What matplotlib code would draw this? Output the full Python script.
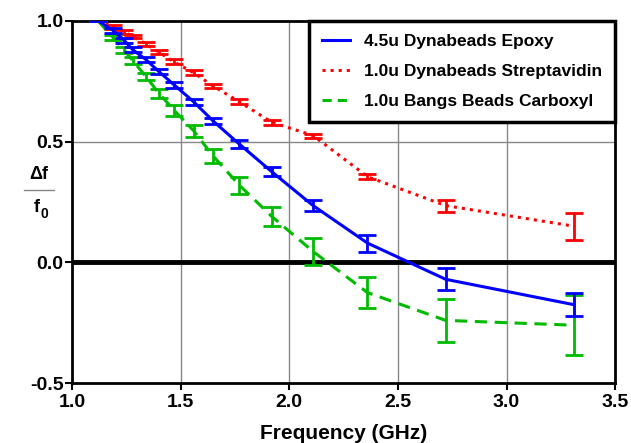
import numpy as np
import matplotlib.pyplot as plt
from matplotlib.lines import Line2D

plt.rcParams['font.family'] = ['Liberation Sans', 'DejaVu Sans']
plt.rcParams['font.weight'] = 'bold'

# frequency points (GHz)
freq = [1.12, 1.19, 1.24, 1.28, 1.34, 1.40, 1.47, 1.56, 1.65, 1.77, 1.92, 2.11, 2.36, 2.72, 3.31]

# 4.5u Dynabeads Epoxy
epoxy = [1.0, 0.96, 0.92, 0.88, 0.84, 0.79, 0.735, 0.665, 0.585, 0.49, 0.375, 0.235, 0.08, -0.07, -0.175]
epoxy_err = [0, 0.01, 0.01, 0.01, 0.01, 0.01, 0.012, 0.012, 0.013, 0.015, 0.018, 0.022, 0.035, 0.045, 0.048]

# 1.0u Dynabeads Streptavidin
strep = [1.0, 0.975, 0.955, 0.935, 0.905, 0.87, 0.83, 0.785, 0.73, 0.665, 0.58, 0.525, 0.355, 0.235, 0.15]
strep_err = [0, 0.008, 0.008, 0.008, 0.008, 0.008, 0.01, 0.01, 0.01, 0.01, 0.01, 0.008, 0.01, 0.025, 0.056]

# 1.0u Bangs Beads Carboxyl
carb = [1.0, 0.93, 0.88, 0.835, 0.77, 0.70, 0.63, 0.545, 0.44, 0.32, 0.19, 0.045, -0.125, -0.24, -0.26]
carb_err = [0, 0.01, 0.012, 0.014, 0.016, 0.018, 0.022, 0.025, 0.03, 0.035, 0.04, 0.055, 0.065, 0.088, 0.125]

fig = plt.figure(figsize=(6.31, 4.43), dpi=100)
ax = fig.add_axes([0.114, 0.135, 0.861, 0.818])

ax.axhline(0, color='black', lw=3.5, zorder=1)
for gx in [1.5, 2.0, 2.5, 3.0]:
    ax.axvline(gx, color='#888888', lw=1, zorder=0)
ax.axhline(0.5, color='#888888', lw=1, zorder=0)

ekw = dict(capsize=6.5, capthick=2, elinewidth=2, lw=2.2)
ax.errorbar(freq, epoxy, yerr=epoxy_err, color='#0000ff', ls='-', zorder=4, **ekw)
ax.errorbar(freq, strep, yerr=strep_err, color='#ff0000', ls=':', zorder=3, **ekw)
ax.errorbar(freq, carb, yerr=carb_err, color='#00bb00', ls='--', zorder=3,
            dashes=(4, 2.5), **ekw)

ax.set_xlim(1.0, 3.5)
ax.set_ylim(-0.5, 1.0)
ax.set_xticks([1.0, 1.5, 2.0, 2.5, 3.0, 3.5])
ax.set_yticks([-0.5, 0.0, 0.5, 1.0])
ax.set_xticklabels(['1.0', '1.5', '2.0', '2.5', '3.0', '3.5'], fontsize=14, fontweight='bold')
ax.set_yticklabels(['-0.5', '0.0', '0.5', '1.0'], fontsize=14, fontweight='bold')
ax.tick_params(direction='out', length=5, width=1.5, pad=1)
ax.tick_params(axis='x', pad=3)
for s in ax.spines.values():
    s.set_linewidth(2)
    s.set_color('black')
ax.set_xlabel('Frequency (GHz)', fontsize=15, fontweight='bold', labelpad=9)

# y label as a fraction
fig.text(0.062, 0.605, 'Δf', fontsize=13, fontweight='bold', ha='center', va='center')
fig.add_artist(Line2D([0.038, 0.086], [0.571, 0.571], color='#888888', lw=1))
fig.text(0.058, 0.532, 'f', fontsize=13, fontweight='bold', ha='center', va='center')
fig.text(0.071, 0.518, '0', fontsize=10, fontweight='bold', ha='center', va='center')

handles = [Line2D([], [], color='#0000ff', lw=2.2, ls='-'),
           Line2D([], [], color='#ff0000', lw=2.2, ls=':'),
           Line2D([], [], color='#00bb00', lw=2.2, ls='--', dashes=(3, 2))]
leg = ax.legend(handles, ['4.5u Dynabeads Epoxy', '1.0u Dynabeads Streptavidin',
                          '1.0u Bangs Beads Carboxyl'],
                loc='upper right', bbox_to_anchor=(1.0, 1.0), borderaxespad=0,
                fancybox=False, framealpha=1, edgecolor='black', handlelength=1.6,
                prop={'size': 12.5, 'weight': 'bold'}, borderpad=0.75, labelspacing=0.85)
leg.get_frame().set_linewidth(2.5)
leg.set_zorder(5)

fig.savefig('out.png', dpi=100)
